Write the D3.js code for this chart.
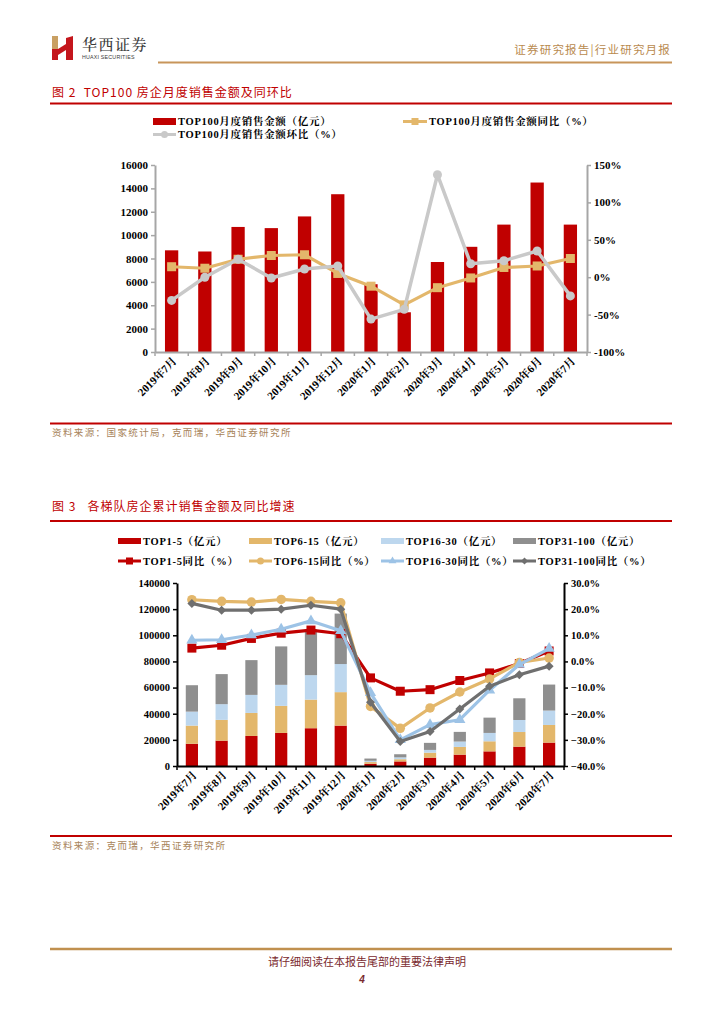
<!DOCTYPE html>
<html>
<head>
<meta charset="utf-8">
<script src="https://cdn.jsdelivr.net/npm/d3@7"></script>
<style>
  html, body { margin: 0; padding: 0; background: #fff; }
  svg { display: block; }
</style>
</head>
<body>
<svg id="page" width="724" height="1024"></svg>
<script>
// ---------- Data ----------
const months = ["2019年7月","2019年8月","2019年9月","2019年10月","2019年11月","2019年12月",
                "2020年1月","2020年2月","2020年3月","2020年4月","2020年5月","2020年6月","2020年7月"];

// Figure 2
const top100Sales = [8700, 8600, 10700, 10600, 11600, 13500, 5800, 3400, 7700, 9000, 10900, 14500, 10900];
const top100Yoy   = [14, 12, 24, 29, 30, 5, -12, -37, -14, -1, 13, 15, 25];
const top100Mom   = [-31, 0, 24, -1, 11, 15, -56, -43, 137, 18, 22, 35, -25];
const fig2LeftTicks  = [0, 2000, 4000, 6000, 8000, 10000, 12000, 14000, 16000];
const fig2RightTicks = [-100, -50, 0, 50, 100, 150];

// Figure 3 (cumulative sales, 亿元)
const top1_5    = [17000, 19400, 23000, 25300, 28900, 30900, 1700, 3500, 6400, 8700, 11200, 14800, 17900];
const top6_15   = [13900, 15900, 17600, 20700, 21900, 25600, 1300, 1700, 3800, 5900, 7700, 11200, 13500];
const top16_30  = [10700, 12000, 13800, 16100, 18700, 21500, 1000, 1400, 2100, 4100, 6400, 9200, 11000];
const top31_100 = [20200, 23000, 26600, 29400, 35000, 38600, 1700, 2400, 5400, 7400, 11700, 16600, 19900];
// YoY (%)
const yoy1_5    = [5.1, 6.2, 8.8, 10.8, 12.0, 10.6, -6.3, -11.4, -10.8, -7.3, -4.4, -0.8, 4.0];
const yoy6_15   = [23.6, 23.0, 22.7, 23.7, 23.0, 22.4, -17.2, -25.6, -17.8, -11.7, -6.7, -0.4, 1.3];
const yoy16_30  = [8.1, 8.3, 10.1, 12.3, 15.5, 11.7, -12.0, -30.0, -24.2, -22.3, -11.0, -1.2, 4.9];
const yoy31_100 = [22.2, 19.6, 19.6, 20.0, 21.5, 20.0, -15.6, -30.6, -26.8, -18.2, -9.5, -5.1, -1.8];
const fig3LeftTicks  = [0, 20000, 40000, 60000, 80000, 100000, 120000, 140000];
const fig3RightTicks = [-40, -30, -20, -10, 0, 10, 20, 30];

const stackKeys   = ["TOP1-5（亿元）", "TOP6-15（亿元）", "TOP16-30（亿元）", "TOP31-100（亿元）"];
const lineKeys    = ["TOP1-5同比（%）", "TOP6-15同比（%）", "TOP16-30同比（%）", "TOP31-100同比（%）"];

// ---------- Styles ----------
const RED = "#c00000", TAN = "#e3b76b", LBLUE = "#bdd7ee", GREY = "#8f8f8f";
const LINE_BLUE = "#9dc3e6", LINE_GREY = "#6f6f6f", LGRAY = "#c9c9c9";
const SERIF = "'Liberation Serif','Times New Roman','Noto Serif CJK SC','Noto Sans CJK SC',serif";
const CJK = "'Noto Sans CJK SC','Noto Sans',sans-serif";

const svg = d3.select("#page");
svg.append("rect").attr("width", 724).attr("height", 1024).attr("fill", "#fff");

// ---------- Header ----------
const hdr = svg.append("g");
hdr.append("polygon").attr("points", "52,36 58,36 58,49 52,49").attr("fill", "#c9a063");
hdr.append("polygon").attr("points", "52,49 58,49 58,60 52,60").attr("fill", "#c4161c");
hdr.append("polygon").attr("points", "58,49 66,44 66,50 58,55").attr("fill", "#c4161c");
hdr.append("polygon").attr("points", "66,38 73,36 73,60 66,60").attr("fill", "#c4161c");
hdr.append("text").attr("x", 82).attr("y", 50).text("华西证券")
  .attr("font-family", "'Noto Serif CJK SC','Noto Sans CJK SC',serif").attr("font-size", 15)
  .attr("font-weight", 500).attr("fill", "#3a3a3a").attr("letter-spacing", 1.5);
hdr.append("text").attr("x", 82).attr("y", 59).text("HUAXI SECURITIES")
  .attr("font-family", "'Liberation Sans',Arial,sans-serif").attr("font-size", 5.3)
  .attr("fill", "#3a3a3a").attr("letter-spacing", 0.2);
hdr.append("text").attr("x", 671).attr("y", 54).attr("text-anchor", "end")
  .text("证券研究报告|行业研究月报")
  .attr("font-family", CJK).attr("font-size", 11.5).attr("fill", "#b98a4e").attr("letter-spacing", 1.2);
hdr.append("line").attr("x1", 158).attr("x2", 672).attr("y1", 62.5).attr("y2", 62.5)
  .attr("stroke", "#c8955a").attr("stroke-width", 2);

// ---------- Helpers ----------
function title(y, txt) {
  svg.append("text").attr("x", 52).attr("y", y).text(txt).attr("xml:space", "preserve")
    .style("white-space", "pre")
    .attr("font-family", CJK).attr("font-size", 12).attr("fill", RED).attr("letter-spacing", 1.0);
}
function rule(y, color, w) {
  svg.append("line").attr("x1", 50).attr("x2", 672).attr("y1", y).attr("y2", y)
    .attr("stroke", color).attr("stroke-width", w);
}
function source(y, txt) {
  svg.append("text").attr("x", 52).attr("y", y).text(txt)
    .attr("font-family", CJK).attr("font-size", 9.5).attr("fill", "#a8845a").attr("letter-spacing", 1.4);
}
function marker(g, type, cx, cy, color, s) {
  if (type === "square") {
    g.append("rect").attr("x", cx - s/2).attr("y", cy - s/2).attr("width", s).attr("height", s).attr("fill", color);
  } else if (type === "circle") {
    g.append("circle").attr("cx", cx).attr("cy", cy).attr("r", s/2).attr("fill", color);
  } else if (type === "triangle") {
    const sym = d3.symbol().type(d3.symbolTriangle).size(s*s*0.55);
    g.append("path").attr("d", sym()).attr("transform", `translate(${cx},${cy})`).attr("fill", color);
  } else if (type === "diamond") {
    const h = s/2;
    g.append("path").attr("d", `M${cx},${cy-h}L${cx+h},${cy}L${cx},${cy+h}L${cx-h},${cy}Z`).attr("fill", color);
  }
}
function legendText(g, x, y, txt) {
  g.append("text").attr("x", x).attr("y", y).attr("dy", "0.35em").text(txt)
    .attr("font-family", SERIF).attr("font-size", 10.5).attr("font-weight", "bold")
    .attr("letter-spacing", 0.7).attr("fill", "#000");
}
function styleAxis(g, color, fontSize) {
  g.select(".domain").attr("stroke", color).attr("stroke-width", 2);
  g.selectAll(".tick line").attr("stroke", color).attr("stroke-width", 1.5);
  g.selectAll(".tick text").attr("font-family", SERIF).attr("font-size", fontSize)
    .attr("font-weight", "bold").attr("fill", "#000");
}
function xLabels(g, x, yPos) {
  g.selectAll("text.xl").data(months).join("text").attr("class", "xl")
    .attr("transform", d => `translate(${x(d) + x.bandwidth()/2 + 3},${yPos}) rotate(-45)`)
    .attr("text-anchor", "end").attr("dy", "0.35em").text(d => d)
    .attr("font-family", SERIF).attr("font-size", 11).attr("font-weight", "bold").attr("fill", "#000");
}
function xBoundaryTicks(g, x, yAxis, color) {
  const edges = months.map(m => x(m)).concat([x.range()[1]]);
  g.selectAll("line.xt").data(edges).join("line").attr("class", "xt")
    .attr("x1", d => d).attr("x2", d => d).attr("y1", yAxis).attr("y2", yAxis + 4)
    .attr("stroke", color).attr("stroke-width", 1.5);
}

// ---------- Figure 2 ----------
title(97, "图 2  TOP100 房企月度销售金额及同环比");
rule(103.5, RED, 2);

{
  const L = svg.append("g");
  L.append("rect").attr("x", 153).attr("y", 118).attr("width", 23).attr("height", 7).attr("fill", RED);
  legendText(L, 178, 121.5, "TOP100月度销售金额（亿元）");
  L.append("line").attr("x1", 403).attr("x2", 427).attr("y1", 121.5).attr("y2", 121.5).attr("stroke", TAN).attr("stroke-width", 3);
  marker(L, "square", 415, 121.5, TAN, 7);
  legendText(L, 429, 121.5, "TOP100月度销售金额同比（%）");
  L.append("line").attr("x1", 153).attr("x2", 176).attr("y1", 134.5).attr("y2", 134.5).attr("stroke", LGRAY).attr("stroke-width", 3);
  marker(L, "circle", 164.5, 134.5, LGRAY, 7);
  legendText(L, 178, 134.5, "TOP100月度销售金额环比（%）");
}

{
  const x = d3.scaleBand().domain(months).range([155, 587]).paddingInner(0).paddingOuter(0);
  const y = d3.scaleLinear().domain([0, 16000]).range([352, 165]);
  const y2 = d3.scaleLinear().domain([-100, 150]).range([352, 165]);
  const g = svg.append("g");
  const bw = x.bandwidth() * 0.4;

  g.selectAll("rect.bar").data(months).join("rect").attr("class", "bar")
    .attr("x", d => x(d) + (x.bandwidth() - bw) / 2).attr("width", bw)
    .attr("y", (d, i) => y(top100Sales[i])).attr("height", (d, i) => y(0) - y(top100Sales[i]))
    .attr("fill", RED);

  const cx = d => x(d) + x.bandwidth() / 2;
  const lineYoy = d3.line().x((d, i) => cx(months[i])).y(d => y2(d));
  g.append("path").attr("d", lineYoy(top100Yoy)).attr("fill", "none").attr("stroke", TAN).attr("stroke-width", 3.2).attr("stroke-linejoin", "round");
  top100Yoy.forEach((v, i) => marker(g, "square", cx(months[i]), y2(v), TAN, 9));
  g.append("path").attr("d", lineYoy(top100Mom)).attr("fill", "none").attr("stroke", LGRAY).attr("stroke-width", 3.5).attr("stroke-linejoin", "round");
  top100Mom.forEach((v, i) => marker(g, "circle", cx(months[i]), y2(v), LGRAY, 9));

  const ax = svg.append("g").attr("transform", "translate(155,0)")
    .call(d3.axisLeft(y).tickValues(fig2LeftTicks).tickSize(4).tickSizeOuter(0).tickFormat(d3.format("d")));
  styleAxis(ax, "#a6a6a6", 11);
  const ax2 = svg.append("g").attr("transform", "translate(587,0)")
    .call(d3.axisRight(y2).tickValues(fig2RightTicks).tickSize(4).tickSizeOuter(0).tickFormat(d => d + "%"));
  styleAxis(ax2, "#a6a6a6", 11);
  const axb = svg.append("g").attr("transform", "translate(0,352)")
    .call(d3.axisBottom(x).tickSize(0).tickFormat(""));
  axb.select(".domain").attr("stroke", "#a6a6a6").attr("stroke-width", 2);
  xBoundaryTicks(svg.append("g"), x, 352, "#a6a6a6");
  xLabels(svg.append("g"), x, 359);
}

rule(423.5, RED, 2);
source(436, "资料来源：国家统计局，克而瑞，华西证券研究所");

// ---------- Figure 3 ----------
title(511, "图 3   各梯队房企累计销售金额及同比增速");
rule(521, RED, 2);

const stackColors = [RED, TAN, LBLUE, GREY];
const lineColors  = [RED, TAN, LINE_BLUE, LINE_GREY];
const markerTypes = ["square", "circle", "triangle", "diamond"];
{
  const L = svg.append("g");
  const lx = [118, 249, 381, 513];
  lx.forEach((x0, i) => {
    L.append("rect").attr("x", x0).attr("y", 538).attr("width", 23).attr("height", 6).attr("fill", stackColors[i]);
    legendText(L, x0 + 25, 541, stackKeys[i]);
    L.append("line").attr("x1", x0).attr("x2", x0 + 23).attr("y1", 561).attr("y2", 561).attr("stroke", lineColors[i]).attr("stroke-width", 3);
    marker(L, markerTypes[i], x0 + 11.5, 561, lineColors[i], 7);
    legendText(L, x0 + 25, 561, lineKeys[i]);
  });
}

{
  const x = d3.scaleBand().domain(months).range([177, 564]).paddingInner(0).paddingOuter(0);
  const y = d3.scaleLinear().domain([0, 140000]).range([766, 583]);
  const y2 = d3.scaleLinear().domain([-40, 30]).range([766, 583]);
  const g = svg.append("g");
  const bw = x.bandwidth() * 0.41;
  const rows = months.map((m, i) => ({ m, a: top1_5[i], b: top6_15[i], c: top16_30[i], d: top31_100[i] }));
  const stack = d3.stack().keys(["a", "b", "c", "d"])(rows);
  stack.forEach((layer, k) => {
    g.selectAll(`rect.s${k}`).data(layer).join("rect").attr("class", `s${k}`)
      .attr("x", d => x(d.data.m) + (x.bandwidth() - bw) / 2).attr("width", bw)
      .attr("y", d => y(d[1])).attr("height", d => y(d[0]) - y(d[1]))
      .attr("fill", stackColors[k]);
  });

  const cx = d => x(d) + x.bandwidth() / 2;
  const ln = d3.line().x((d, i) => cx(months[i])).y(d => y2(d));
  const series = [yoy1_5, yoy6_15, yoy16_30, yoy31_100];
  const msize = [9, 9.5, 10, 9];
  series.forEach((s, k) => {
    g.append("path").attr("d", ln(s)).attr("fill", "none").attr("stroke", lineColors[k])
      .attr("stroke-width", 3.2).attr("stroke-linejoin", "round");
    s.forEach((v, i) => marker(g, markerTypes[k], cx(months[i]), y2(v), lineColors[k], msize[k]));
  });

  const ax = svg.append("g").attr("transform", "translate(177,0)")
    .call(d3.axisLeft(y).tickValues(fig3LeftTicks).tickSize(4).tickSizeOuter(0).tickFormat(d3.format("d")));
  styleAxis(ax, "#000", 10.5);
  const ax2 = svg.append("g").attr("transform", "translate(564,0)")
    .call(d3.axisRight(y2).tickValues(fig3RightTicks).tickSize(4).tickSizeOuter(0).tickFormat(d => d3.format(".1f")(d) + "%"));
  styleAxis(ax2, "#000", 10.5);
  const axb = svg.append("g").attr("transform", "translate(0,766)")
    .call(d3.axisBottom(x).tickSize(0).tickFormat(""));
  axb.select(".domain").attr("stroke", "#000").attr("stroke-width", 2);
  xBoundaryTicks(svg.append("g"), x, 766, "#000");
  xLabels(svg.append("g"), x, 773);
}

rule(836, RED, 2);
source(849, "资料来源：克而瑞，华西证券研究所");

// ---------- Footer ----------
svg.append("line").attr("x1", 50).attr("x2", 672).attr("y1", 949).attr("y2", 949)
  .attr("stroke", "#c0904f").attr("stroke-width", 2.5);
svg.append("text").attr("x", 367).attr("y", 966).attr("text-anchor", "middle")
  .text("请仔细阅读在本报告尾部的重要法律声明")
  .attr("font-family", CJK).attr("font-size", 11).attr("fill", "#7a2a2e");
svg.append("text").attr("x", 362).attr("y", 983).attr("text-anchor", "middle").text("4")
  .attr("font-family", "'Liberation Sans',Arial,sans-serif").attr("font-size", 10)
  .attr("font-weight", "bold").attr("font-style", "italic").attr("fill", "#7a2a2e");
</script>
</body>
</html>
